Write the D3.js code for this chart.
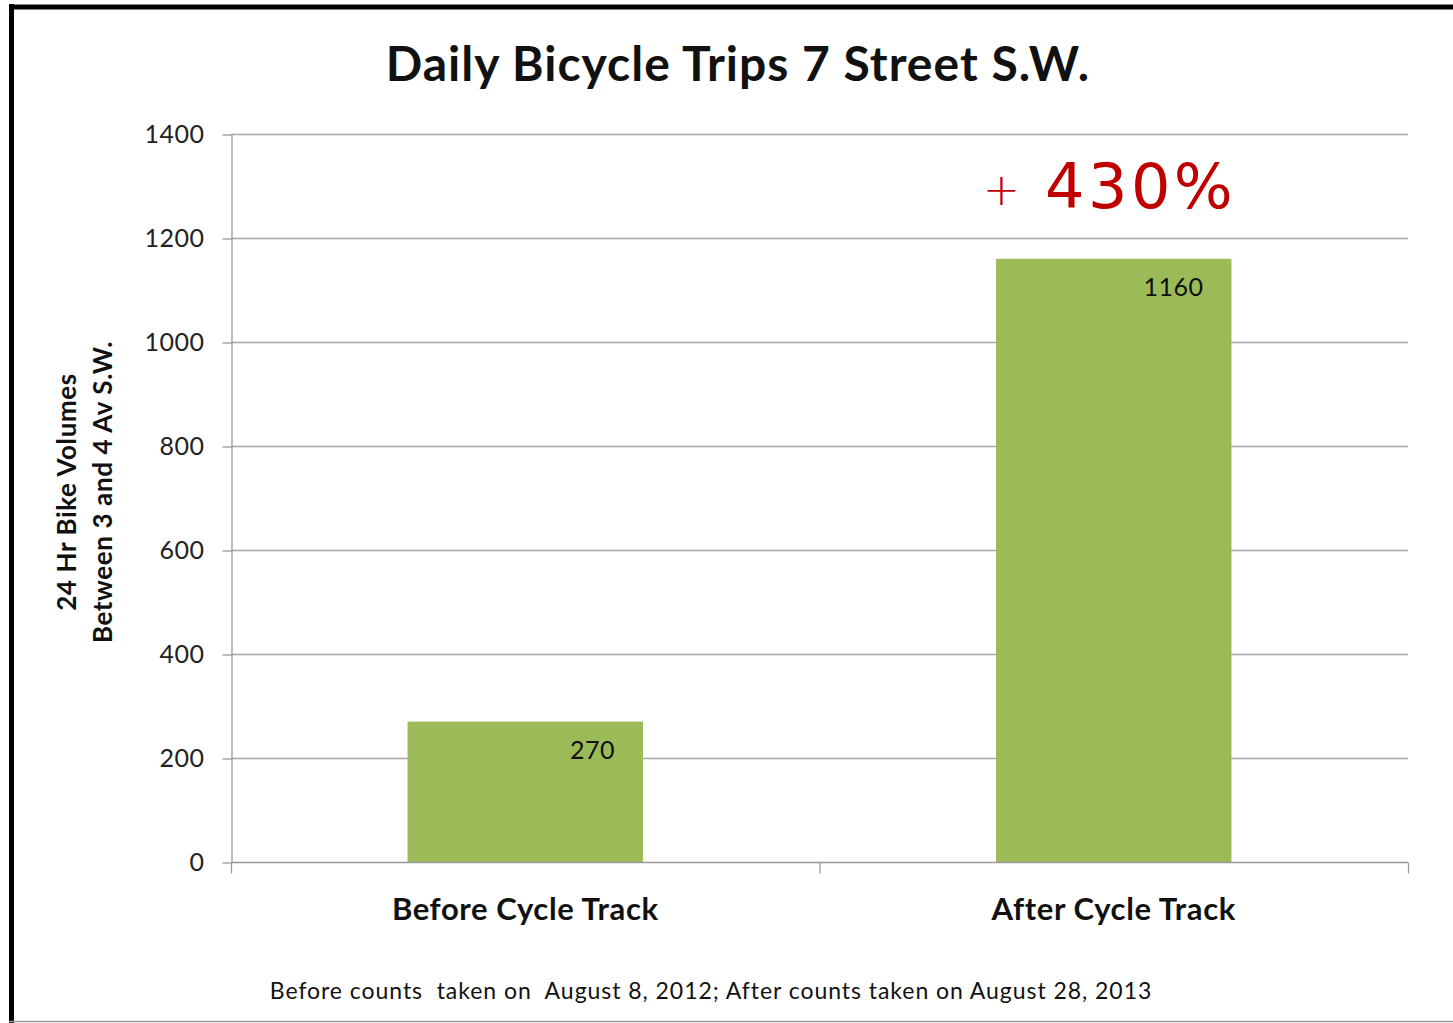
<!DOCTYPE html>
<html>
<head>
<meta charset="utf-8">
<script src="https://cdn.jsdelivr.net/npm/d3@7"></script>
<style>
  body { margin: 0; background: #fff; }
  svg { display: block; font-family: Lato, "Open Sans", sans-serif; }
</style>
</head>
<body>
<div class="chart"></div>
<script>
var categories = ["Before Cycle Track", "After Cycle Track"];
var trips = [270, 1160];
var yTicks = [0, 200, 400, 600, 800, 1000, 1200, 1400];

var width = 1453, height = 1023;
var margin = { top: 134, right: 45, bottom: 161, left: 231 };

var svg = d3.select(".chart").append("svg")
  .attr("width", width)
  .attr("height", height);

// frame: thick left/top, thin bottom
svg.append("line").attr("x1", 11.5).attr("x2", 11.5).attr("y1", 4).attr("y2", 1023)
  .attr("stroke", "#000").attr("stroke-width", 5);
svg.append("line").attr("x1", 9).attr("x2", width).attr("y1", 7).attr("y2", 7)
  .attr("stroke", "#000").attr("stroke-width", 5);
svg.append("line").attr("x1", 9).attr("x2", width).attr("y1", 1021.5).attr("y2", 1021.5)
  .attr("stroke", "#999").attr("stroke-width", 1.5);

var x = d3.scaleBand()
  .domain(categories)
  .range([margin.left, width - margin.right])
  .paddingInner(0.6)
  .paddingOuter(0.3);

var y = d3.scaleLinear()
  .domain([0, 1400])
  .range([height - margin.bottom, margin.top]);

// gridlines
svg.append("g")
  .selectAll("line")
  .data(yTicks.slice(1))
  .enter().append("line")
    .attr("x1", margin.left)
    .attr("x2", width - margin.right)
    .attr("y1", d => y(d) + 0.5)
    .attr("y2", d => y(d) + 0.5)
    .attr("stroke", "#a6a6a6")
    .attr("stroke-width", 1.3);

// y axis
var yAxis = svg.append("g")
  .attr("transform", "translate(" + (margin.left + 0.5) + ",0.5)")
  .call(d3.axisLeft(y).tickValues(yTicks).tickFormat(d3.format("d"))
    .tickSize(9).tickPadding(18).tickSizeOuter(0));
yAxis.select(".domain").attr("stroke", "#999").attr("stroke-width", 1.3);
yAxis.selectAll(".tick line").attr("stroke", "#999").attr("stroke-width", 1.3);
yAxis.selectAll("text")
  .attr("font-size", 25)
  .attr("letter-spacing", 0.5)
  .attr("fill", "#222")
  .attr("font-family", "Lato, sans-serif");

// bars
svg.append("g")
  .selectAll("rect")
  .data(trips)
  .enter().append("rect")
    .attr("x", (d, i) => x(categories[i]))
    .attr("y", d => y(d))
    .attr("width", x.bandwidth())
    .attr("height", d => y(0) - y(d))
    .attr("fill", "#9bbb59");

// value labels
svg.append("g")
  .selectAll("text")
  .data(trips)
  .enter().append("text")
    .attr("x", (d, i) => x(categories[i]) + x.bandwidth() - 28)
    .attr("y", d => y(d) + 37)
    .attr("text-anchor", "end")
    .attr("font-size", 25)
    .attr("letter-spacing", 0.5)
    .attr("fill", "#111")
    .text(d => d);

// x axis line and ticks
var xAxisY = y(0) + 0.5;
svg.append("line")
  .attr("x1", margin.left).attr("x2", width - margin.right)
  .attr("y1", xAxisY).attr("y2", xAxisY)
  .attr("stroke", "#999").attr("stroke-width", 1.3);
var bounds = [margin.left, (margin.left + width - margin.right) / 2, width - margin.right];
svg.append("g")
  .selectAll("line")
  .data(bounds)
  .enter().append("line")
    .attr("x1", d => d + 0.5).attr("x2", d => d + 0.5)
    .attr("y1", xAxisY).attr("y2", xAxisY + 11)
    .attr("stroke", "#999").attr("stroke-width", 1.3);

// category labels
svg.append("g")
  .selectAll("text")
  .data(categories)
  .enter().append("text")
    .attr("x", d => x(d) + x.bandwidth() / 2)
    .attr("y", 920)
    .attr("text-anchor", "middle")
    .attr("font-size", 31)
    .attr("letter-spacing", 0.6)
    .attr("font-weight", "bold")
    .attr("fill", "#111")
    .text(d => d);

// title
svg.append("text")
  .attr("x", 738)
  .attr("y", 81)
  .attr("text-anchor", "middle")
  .attr("font-size", 48)
  .attr("letter-spacing", 1)
  .attr("font-weight", "bold")
  .attr("fill", "#111")
  .text("Daily Bicycle Trips 7 Street S.W.");

// y axis title
var yt = svg.append("text")
  .attr("transform", "translate(76,492) rotate(-90)")
  .attr("text-anchor", "middle")
  .attr("font-size", 26)
  .attr("letter-spacing", 0.6)
  .attr("font-weight", "bold")
  .attr("fill", "#111");
yt.append("tspan").attr("x", 0).attr("dy", 0).text("24 Hr Bike Volumes");
yt.append("tspan").attr("x", 0).attr("dy", 36).text("Between 3 and 4 Av S.W.");

// percent annotation
var pct = svg.append("text")
  .attr("font-family", "'DejaVu Sans', sans-serif")
  .attr("fill", "#c00000");
pct.append("tspan").attr("x", 983).attr("y", 205).attr("font-size", 44)
  .attr("font-weight", 300).text("+");
pct.append("tspan").attr("x", 1045).attr("y", 208).attr("font-size", 62)
  .attr("letter-spacing", 3.5).text("430%");

// footnote
svg.append("text")
  .attr("x", 711)
  .attr("y", 999)
  .attr("text-anchor", "middle")
  .attr("font-size", 23)
  .attr("letter-spacing", 0.95)
  .attr("fill", "#111")
  .style("white-space", "pre")
  .text("Before counts  taken on  August 8, 2012; After counts taken on August 28, 2013");
</script>
</body>
</html>
